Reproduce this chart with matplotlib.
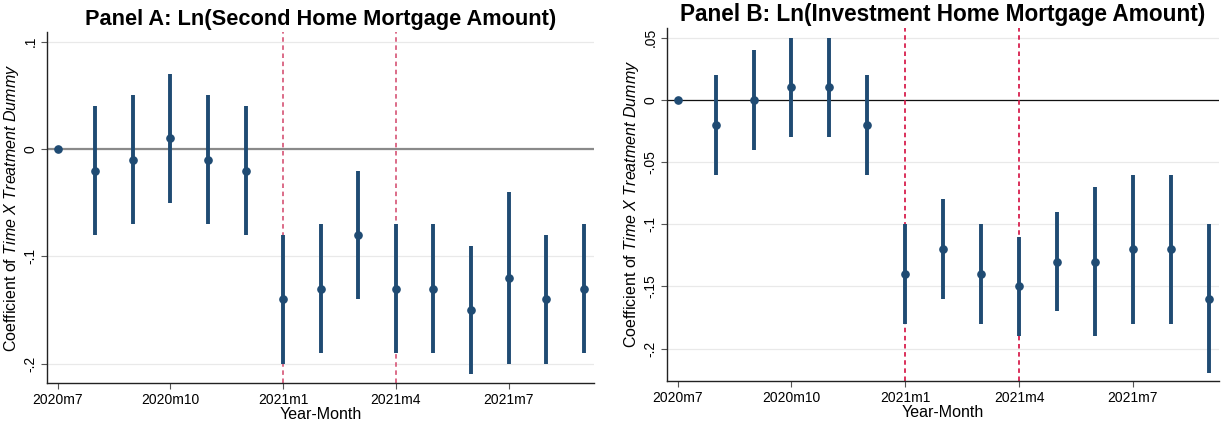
import matplotlib
matplotlib.use("Agg")
import matplotlib.pyplot as plt
import numpy as np

plt.rcParams["font.family"] = ["Liberation Sans", "DejaVu Sans"]
plt.rcParams["mathtext.fontset"] = "custom"
plt.rcParams["mathtext.rm"] = "Liberation Sans"
plt.rcParams["mathtext.it"] = "Liberation Sans:italic"

months = ["2020m7", "2020m8", "2020m9", "2020m10", "2020m11", "2020m12",
          "2021m1", "2021m2", "2021m3", "2021m4", "2021m5", "2021m6",
          "2021m7", "2021m8", "2021m9"]
tick_labels = ["2020m7", "2020m10", "2021m1", "2021m4", "2021m7"]

# Panel A: second home mortgage amount
coef_a = [0.0, -0.02, -0.01, 0.01, -0.01, -0.02, -0.14, -0.13, -0.08,
          -0.13, -0.13, -0.15, -0.12, -0.14, -0.13]
lo_a = [np.nan, -0.08, -0.07, -0.05, -0.07, -0.08, -0.20, -0.19, -0.14,
        -0.19, -0.19, -0.21, -0.20, -0.20, -0.19]
hi_a = [np.nan, 0.04, 0.05, 0.07, 0.05, 0.04, -0.08, -0.07, -0.02,
        -0.07, -0.07, -0.09, -0.04, -0.08, -0.07]

# Panel B: investment home mortgage amount
coef_b = [0.0, -0.02, 0.0, 0.01, 0.01, -0.02, -0.14, -0.12, -0.14,
          -0.15, -0.13, -0.13, -0.12, -0.12, -0.16]
lo_b = [np.nan, -0.06, -0.04, -0.03, -0.03, -0.06, -0.18, -0.16, -0.18,
        -0.19, -0.17, -0.19, -0.18, -0.18, -0.22]
hi_b = [np.nan, 0.02, 0.04, 0.05, 0.05, 0.02, -0.10, -0.08, -0.10,
        -0.11, -0.09, -0.07, -0.06, -0.06, -0.10]

event_months = ["2021m1", "2021m4"]

NAVY = "#1f4b73"

fig = plt.figure(figsize=(12.25, 4.28), dpi=100)
ax_a = fig.add_axes([0.0384, 0.105, 0.4465, 0.820])
ax_b = fig.add_axes([0.5445, 0.110, 0.4506, 0.825])


def fmt(v):
    if abs(v) < 1e-12:
        return "0"
    s = f"{v:g}"
    return s.replace("0.", ".")


def draw(ax, coef, lo, hi, title, title_size, yticks, ylim, zero_color,
         zero_lw, vcolor):
    x = np.arange(len(months))
    coef = np.array(coef)
    lo = np.array(lo)
    hi = np.array(hi)
    for t in yticks:
        ax.axhline(t, color="#e9e9e9", lw=0.9, zorder=0)
    ax.axhline(0, color=zero_color, lw=zero_lw, zorder=1)
    for m in event_months:
        ax.axvline(months.index(m), color=vcolor, lw=1.3,
                   linestyle=(0, (2.5, 2)), zorder=1)
    ax.vlines(x, lo, hi, color=NAVY, lw=2.8, zorder=2)
    ax.plot(x, coef, "o", color=NAVY, ms=5.2, zorder=3)

    ax.set_xlim(-0.28, len(months) - 1 + 0.27)
    ax.set_ylim(*ylim)
    ax.set_xticks([months.index(m) for m in tick_labels])
    ax.set_xticklabels(tick_labels, fontsize=10)
    ax.set_yticks(yticks)
    ax.set_yticklabels([fmt(v) for v in yticks], fontsize=10,
                       rotation=90, va="center")
    ax.tick_params(axis="both", direction="out", length=4, width=0.8,
                   color="#555555", pad=3)
    for side in ("top", "right"):
        ax.spines[side].set_visible(False)
    for side in ("left", "bottom"):
        ax.spines[side].set_color("#222222")
        ax.spines[side].set_linewidth(1.0)
    ax.set_xlabel("Year-Month", fontsize=11.5, labelpad=0)
    ax.set_ylabel(r"Coefficient of $\mathit{Time\ X\ Treatment\ Dummy}$",
                  fontsize=11.5, labelpad=2)
    ax.set_title(title, fontsize=title_size, fontweight="bold", pad=5)


draw(ax_a, coef_a, lo_a, hi_a, "Panel A: Ln(Second Home Mortgage Amount)",
     15.7, [-0.2, -0.1, 0.0, 0.1], (-0.218, 0.109), "#8a8a8a", 1.6, "#d9607f")
draw(ax_b, coef_b, lo_b, hi_b, "Panel B: Ln(Investment Home Mortgage Amount)",
     16.3, [-0.2, -0.15, -0.1, -0.05, 0.0, 0.05], (-0.226, 0.058), "#111111",
     0.9, "#d8204e")

fig.savefig("out.png", dpi=100)
